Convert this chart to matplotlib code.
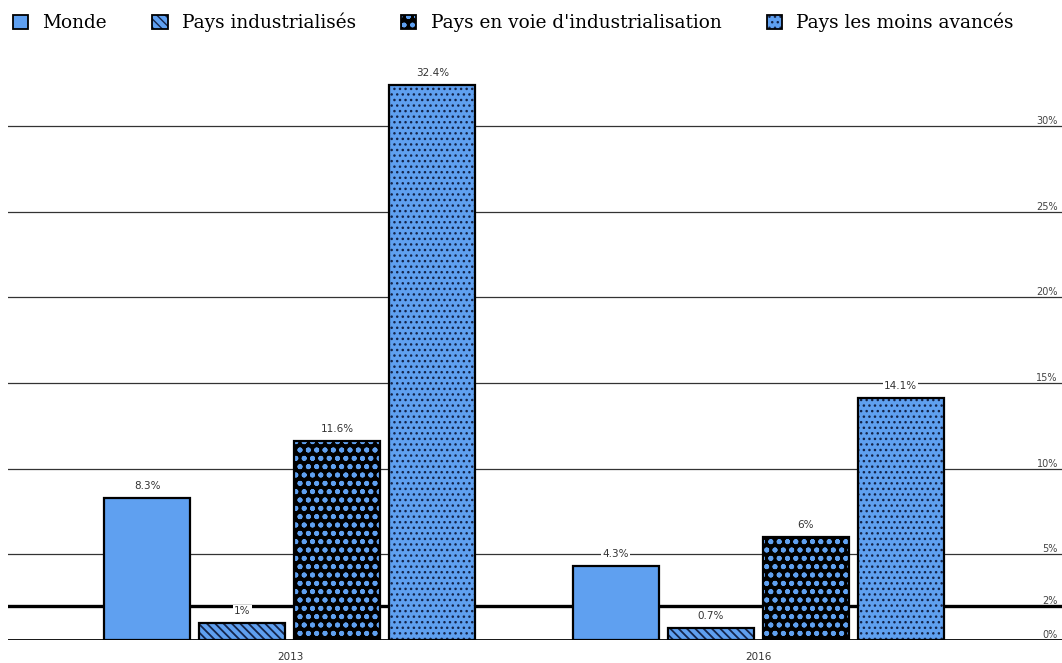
import matplotlib
matplotlib.use('Agg')
import matplotlib.pyplot as plt
import numpy as np
from matplotlib.patches import Patch
from matplotlib.legend_handler import HandlerTuple

# ---- data ----
years = ['2013', '2016']
series_names = ['Monde', 'Pays industrialisés',
                "Pays en voie d'industrialisation", 'Pays les moins avancés']
monde = [8.3, 4.3]
industrialises = [1.0, 0.7]
en_voie = [11.6, 6.0]
moins_avances = [32.4, 14.1]
series_values = [monde, industrialises, en_voie, moins_avances]
yticks = [0, 2, 5, 10, 15, 20, 25, 30]
ytick_labels = ['0%', '2%', '5%', '10%', '15%', '20%', '25%', '30%']

# ---- styles ----
BLUE = '#5fa0f0'
NAVY = '#14244a'
styles = [
    dict(face=BLUE, hatch=None, hcolor=BLUE, hlw=1.0),
    dict(face=BLUE, hatch='\\\\\\\\', hcolor=NAVY, hlw=1.3),
    dict(face='black', hatch='oo..', hcolor=BLUE, hlw=1.2),
    dict(face=BLUE, hatch='...', hcolor=NAVY, hlw=1.0),
]

W, H, DPI = 10.62, 6.63, 100
fig = plt.figure(figsize=(W, H), dpi=DPI)
# axes: left at 8px, right at 1062px, y=0 at 640px
ymax = 34
px_per = (640 - 126) / 30.0
ax_left = 8 / 1062
ax_bottom = (663 - 640) / 663
ax_h = ymax * px_per / 663
ax = fig.add_axes([ax_left, ax_bottom, 1 - ax_left, ax_h])
ax.set_ylim(0, ymax)

centers_px = [290, 758]
unit = centers_px[1] - centers_px[0]
xl = -(centers_px[0] - 8) / unit
xr = (1062 - centers_px[0]) / unit
ax.set_xlim(xl, xr)
bar_w = 86 / unit
step = 95 / unit

x = np.arange(len(years))

# gridlines
for t in yticks:
    if t == 0:
        ax.axhline(t, color='black', lw=2.0, zorder=5)
    elif t == 2:
        ax.axhline(t, color='black', lw=2.4, zorder=1)
    else:
        ax.axhline(t, color='#333333', lw=0.9, zorder=1)

handles = []
for i, (name, vals, st) in enumerate(zip(series_names, series_values, styles)):
    xs = x + (i - 1.5) * step
    with plt.rc_context({'hatch.linewidth': st['hlw']}):
        fill = ax.bar(xs, vals, bar_w, color=st['face'], edgecolor=st['hcolor'],
                      linewidth=0, hatch=st['hatch'], zorder=3)
        for p in fill:
            if hasattr(p, 'set_hatch_linewidth'):
                p.set_hatch_linewidth(st['hlw'])
    ax.bar(xs, vals, bar_w, fill=False, edgecolor='black', linewidth=1.6, zorder=4)
    for xv, v in zip(xs, vals):
        ax.annotate(f'{v:g}%', (xv, v), xytext=(0, 5), textcoords='offset points',
                    ha='center', va='bottom', fontsize=7.5, color='#333333',
                    family='DejaVu Sans', zorder=6,
                    bbox=dict(boxstyle='square,pad=0.1', fc='white', ec='none'))
    with plt.rc_context({'hatch.linewidth': st['hlw']}):
        hp = Patch(facecolor=st['face'], edgecolor=st['hcolor'], linewidth=0,
                   hatch=st['hatch'])
        if hasattr(hp, 'set_hatch_linewidth'):
            hp.set_hatch_linewidth(st['hlw'])
    ho = Patch(fill=False, edgecolor='black', linewidth=1.3)
    handles.append((hp, ho))

# axes styling
for s in ax.spines.values():
    s.set_visible(False)
ax.set_xticks(x)
ax.set_xticklabels(years, fontsize=7.5, color='#333333', family='DejaVu Sans')
ax.tick_params(axis='x', length=0, pad=9)
ax.yaxis.tick_right()
ax.set_yticks(yticks)
ax.set_yticklabels(ytick_labels, fontsize=7, color='#444444', family='DejaVu Sans')
ax.tick_params(axis='y', length=0, pad=-3)
for lab in ax.get_yticklabels():
    lab.set_ha('right')
    lab.set_va('bottom')

fig.legend(handles, series_names, loc='upper left', bbox_to_anchor=(0.0, 1.0),
           ncol=4, frameon=False, handler_map={tuple: HandlerTuple(ndivide=1, pad=0)},
           handlelength=0.82, handleheight=0.82, handletextpad=0.78,
           columnspacing=2.45, prop=dict(family='DejaVu Serif', size=13.3),
           borderaxespad=0.3)

fig.savefig('out.png', dpi=DPI)
